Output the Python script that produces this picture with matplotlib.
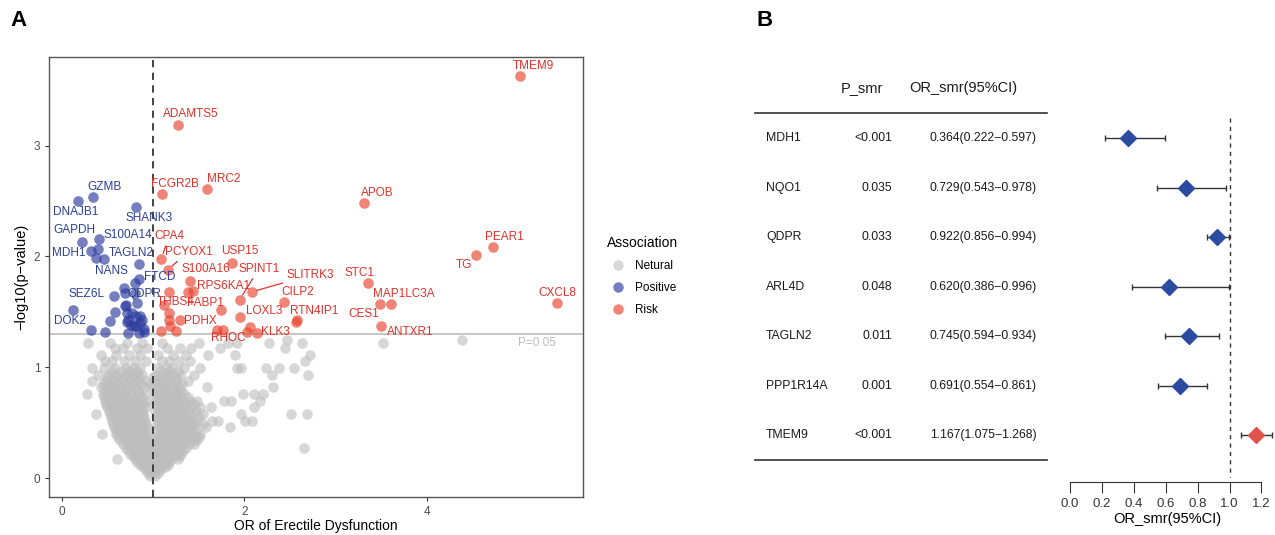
import numpy as np
import matplotlib.pyplot as plt
from matplotlib.lines import Line2D

plt.rcParams['font.family'] = ['Liberation Sans', 'DejaVu Sans']

# ---- panel A : volcano data ----
risk_genes = ['ADAMTS5', 'FCGR2B', 'MRC2', 'CPA4', 'PCYOX1', 'USP15', 'S100A16',
              'SPINT1', 'SLITRK3', 'RPS6KA1', 'THBS4', 'FABP1', 'CILP2', 'LOXL3',
              'RTN4IP1', 'PDHX', 'RHOC', 'KLK3', 'TMEM9', 'APOB', 'PEAR1', 'TG',
              'STC1', 'MAP1LC3A', 'CES1', 'ANTXR1', 'CXCL8']
risk_or = [1.27, 1.10, 1.59, 1.09, 1.16, 1.86, 1.40, 1.95, 2.08, 1.44, 1.17, 1.75,
           2.44, 1.95, 2.57, 1.30, 1.70, 2.14, 5.02, 3.31, 4.72, 4.54, 3.35, 3.61,
           3.49, 3.50, 5.42]
risk_logp = [3.19, 2.56, 2.61, 1.98, 1.88, 1.94, 1.78, 1.61, 1.68, 1.69, 1.68, 1.52,
             1.59, 1.45, 1.41, 1.43, 1.34, 1.31, 3.63, 2.48, 2.09, 2.01, 1.76, 1.57,
             1.57, 1.37, 1.58]
risk_other_or = [1.38, 1.17, 1.18, 1.09, 1.25, 1.77, 2.06, 2.03, 1.19, 2.58, 1.12]
risk_other_logp = [1.68, 1.49, 1.43, 1.33, 1.33, 1.34, 1.36, 1.32, 1.37, 1.43, 1.56]

pos_genes = ['GZMB', 'DNAJB1', 'SHANK3', 'GAPDH', 'S100A14', 'MDH1', 'TAGLN2',
             'NANS', 'FTCD', 'SEZ6L', 'QDPR', 'DOK2']
pos_or = [0.34, 0.18, 0.81, 0.22, 0.41, 0.32, 0.46, 0.85, 0.85, 0.57, 0.80, 0.12]
pos_logp = [2.54, 2.50, 2.45, 2.13, 2.16, 2.05, 1.98, 1.80, 1.93, 1.64, 1.76, 1.52]
pos_other_or = [0.40, 0.38, 0.80, 0.69, 0.68, 0.70, 0.58, 0.72, 0.81, 0.86, 0.90,
                0.81, 0.71, 0.32, 0.47, 0.53, 0.69, 0.73, 0.73, 0.79, 0.83, 0.86,
                0.77, 0.90, 0.85, 0.76, 0.88]
pos_other_logp = [2.07, 1.99, 1.67, 1.67, 1.72, 1.56, 1.50, 1.49, 1.46, 1.40, 1.35,
                  1.37, 1.41, 1.34, 1.32, 1.42, 1.55, 1.43, 1.31, 1.37, 1.58, 1.46,
                  1.49, 1.32, 1.31, 1.38, 1.43]

# neutral genes, listed by -log10(p) row
grey_rows = [
    (0.02, [0.97, 1.02]),
    (0.05, [0.94, 1.00, 1.05]),
    (0.07, [0.92, 0.97, 1.03, 1.08]),
    (0.10, [0.89, 0.94, 0.99, 1.04, 1.09, 1.13]),
    (0.12, [0.86, 0.91, 0.96, 1.01, 1.06, 1.11, 1.16]),
    (0.15, [0.83, 0.88, 0.93, 0.98, 1.03, 1.08, 1.13, 1.18]),
    (0.17, [0.61, 0.80, 0.85, 0.90, 0.95, 1.05, 1.10, 1.15, 1.20, 1.27]),
    (0.20, [0.78, 0.83, 0.88, 0.93, 0.98, 1.03, 1.08, 1.13, 1.18, 1.23, 1.28]),
    (0.22, [0.75, 0.80, 0.85, 0.90, 0.95, 1.00, 1.05, 1.10, 1.15, 1.20, 1.25, 1.31]),
    (0.25, [0.73, 0.79, 0.85, 0.91, 0.97, 1.03, 1.09, 1.15, 1.21, 1.27, 1.33]),
    (0.27, [0.70, 0.76, 0.82, 0.88, 0.94, 1.06, 1.12, 1.18, 1.24, 1.30, 1.36, 2.65]),
    (0.31, [0.67, 0.73, 0.79, 0.85, 0.91, 0.97, 1.03, 1.09, 1.15, 1.21, 1.27, 1.33,
            1.39, 1.45]),
    (0.34, [0.64, 0.70, 0.76, 0.82, 0.88, 0.94, 1.00, 1.06, 1.12, 1.18, 1.24, 1.30,
            1.36, 1.42, 1.48]),
    (0.37, [0.62, 0.68, 0.74, 0.80, 0.86, 0.92, 0.98, 1.04, 1.10, 1.16, 1.22, 1.28,
            1.34, 1.40, 1.46, 1.50]),
    (0.40, [0.44, 0.60, 0.66, 0.72, 0.78, 0.84, 0.90, 1.08, 1.14, 1.20, 1.26, 1.32,
            1.38, 1.44, 1.52]),
    (0.43, [0.59, 0.65, 0.71, 0.77, 0.83, 0.89, 0.95, 1.05, 1.11, 1.17, 1.23, 1.29,
            1.35, 1.41, 1.47]),
    (0.46, [0.57, 0.63, 0.69, 0.75, 0.81, 0.87, 0.93, 1.07, 1.13, 1.19, 1.25, 1.31,
            1.37, 1.43, 1.58, 1.84]),
    (0.49, [0.56, 0.62, 0.68, 0.74, 0.80, 0.86, 0.92, 1.04, 1.10, 1.16, 1.22, 1.28,
            1.34, 1.40, 1.46, 1.55]),
    (0.52, [0.55, 0.61, 0.67, 0.73, 0.79, 0.85, 0.91, 1.06, 1.12, 1.18, 1.24, 1.30,
            1.36, 1.42, 1.48, 1.65, 1.71, 2.01, 2.08]),
    (0.55, [0.54, 0.60, 0.66, 0.72, 0.78, 0.84, 0.90, 1.03, 1.09, 1.15, 1.21, 1.27,
            1.33, 1.39, 1.50]),
    (0.58, [0.38, 0.53, 0.59, 0.65, 0.71, 0.77, 0.83, 0.89, 1.05, 1.11, 1.17, 1.23,
            1.29, 1.35, 1.44, 1.55, 1.96, 2.51, 2.69]),
    (0.61, [0.52, 0.58, 0.64, 0.70, 0.76, 0.82, 0.88, 1.02, 1.08, 1.14, 1.20, 1.26,
            1.32, 1.38, 1.47]),
    (0.64, [0.50, 0.56, 0.62, 0.68, 0.74, 0.80, 0.86, 0.92, 1.04, 1.10, 1.16, 1.22,
            1.28, 1.34, 1.42, 1.52, 1.63, 2.11]),
    (0.67, [0.49, 0.55, 0.61, 0.67, 0.73, 0.79, 0.85, 0.90, 1.03, 1.09, 1.15, 1.21,
            1.27, 1.35, 1.45]),
    (0.70, [0.47, 0.53, 0.59, 0.65, 0.71, 0.77, 0.83, 0.92, 1.02, 1.08, 1.14, 1.20,
            1.26, 1.32, 1.40, 1.48, 1.78, 1.85, 2.17]),
    (0.73, [0.46, 0.54, 0.60, 0.66, 0.72, 0.80, 0.88, 1.04, 1.10, 1.16, 1.23, 1.30,
            1.38]),
    (0.76, [0.28, 0.45, 0.51, 0.57, 0.63, 0.69, 0.75, 0.85, 0.92, 1.02, 1.08, 1.14,
            1.20, 1.26, 1.34, 1.99, 2.11, 2.21]),
    (0.79, [0.47, 0.54, 0.61, 0.68, 0.76, 0.84, 1.04, 1.11, 1.18, 1.25, 1.31]),
    (0.82, [0.43, 0.50, 0.57, 0.64, 0.72, 0.80, 0.90, 1.00, 1.07, 1.14, 1.21, 1.28,
            1.59, 2.31]),
    (0.85, [0.45, 0.53, 0.61, 0.70, 0.78, 0.87, 0.97, 1.05, 1.13, 1.22, 1.32]),
    (0.88, [0.33, 0.48, 0.56, 0.66, 0.75, 0.82, 0.92, 1.02, 1.10, 1.18, 1.26, 1.38]),
    (0.91, [0.50, 0.58, 0.67, 0.77, 0.85, 1.00, 1.08, 1.16, 1.25]),
    (0.93, [0.40, 0.52, 0.62, 0.72, 0.80, 0.88, 1.03, 1.12, 1.20, 1.30, 1.45, 2.30,
            2.70]),
    (0.97, [0.55, 0.65, 0.74, 0.83, 1.09, 1.18, 1.27]),
    (0.99, [0.33, 0.46, 0.58, 0.70, 0.78, 0.86, 1.04, 1.14, 1.21, 1.34, 1.52, 1.92,
            1.96, 2.24, 2.38, 2.54]),
    (1.06, [0.47, 0.55, 0.68, 0.80, 0.92, 1.10, 1.18, 1.28, 1.40, 2.67]),
    (1.11, [0.43, 0.60, 0.74, 0.86, 1.06, 1.22, 1.36, 1.60, 1.90, 2.72]),
    (1.17, [0.58, 0.67, 0.82, 0.93, 1.15, 1.30, 1.42, 1.73, 2.45]),
    (1.22, [0.29, 0.53, 0.72, 0.88, 1.10, 1.50, 1.82, 1.92, 2.27, 2.63, 3.52]),
    (1.25, [2.47, 4.39]),
]

# ---- panel B : SMR table / forest data ----
forest_genes = ['MDH1', 'NQO1', 'QDPR', 'ARL4D', 'TAGLN2', 'PPP1R14A', 'TMEM9']
p_smr = ['<0.001', '0.035', '0.033', '0.048', '0.011', '0.001', '<0.001']
or_smr = [0.364, 0.729, 0.922, 0.620, 0.745, 0.691, 1.167]
ci_low = [0.222, 0.543, 0.856, 0.386, 0.594, 0.554, 1.075]
ci_high = [0.597, 0.978, 0.994, 0.996, 0.934, 0.861, 1.268]

p_cut = -np.log10(0.05)

# label offsets in pixels (dx, dy)
label_offset = {
    'GZMB': (12, 10), 'DNAJB1': (-2, -11), 'SHANK3': (13, -11), 'GAPDH': (-7, 12),
    'S100A14': (29, 4), 'MDH1': (-22, -2), 'TAGLN2': (28, 6), 'NANS': (-28, 8),
    'FTCD': (20, -13), 'SEZ6L': (-27, 2), 'QDPR': (10, -11), 'DOK2': (-3, -11),
    'ADAMTS5': (13, 11), 'FCGR2B': (13, 10), 'MRC2': (17, 10), 'CPA4': (8, 23),
    'PCYOX1': (21, 18), 'USP15': (8, 12), 'S100A16': (16, 12), 'SPINT1': (19, 31),
    'SLITRK3': (59, 17), 'RPS6KA1': (30, 5), 'THBS4': (7, -10), 'FABP1': (-16, 7),
    'CILP2': (13, 10), 'LOXL3': (24, 6), 'RTN4IP1': (18, 11), 'PDHX': (20, -1),
    'RHOC': (11, -8), 'KLK3': (18, 1), 'TMEM9': (13, 10), 'APOB': (13, 10),
    'PEAR1': (12, 10), 'TG': (-12, -10), 'STC1': (-8, 10), 'MAP1LC3A': (13, 10),
    'CES1': (-17, -10), 'ANTXR1': (29, -6), 'CXCL8': (1, 10),
}
segment_genes = {'CPA4', 'PCYOX1', 'SPINT1', 'SLITRK3'}

grey_c = '#BDBDBD'
blue_c = '#2B3A9E'
red_c = '#E8442E'
blue_txt = '#2B3F99'
red_txt = '#E0322A'

fig = plt.figure(figsize=(12.75, 5.35), dpi=100)
W, H = 1275.0, 535.0


def px_axes(l, t, r, b):
    return fig.add_axes([l / W, 1 - b / H, (r - l) / W, (b - t) / H])


# ================= panel A =================
ax = px_axes(49.3, 57, 583, 497)
gx = [x for y, xs in grey_rows for x in xs]
gy = [y for y, xs in grey_rows for x in xs]
ax.scatter(gx, gy, s=58, color=grey_c, alpha=0.6, linewidths=0, zorder=2)
ax.scatter(pos_other_or, pos_other_logp, s=58, color=blue_c, alpha=0.65, linewidths=0, zorder=3)
ax.scatter(pos_or, pos_logp, s=58, color=blue_c, alpha=0.65, linewidths=0, zorder=3)
ax.scatter(risk_other_or, risk_other_logp, s=58, color=red_c, alpha=0.65, linewidths=0, zorder=3)
ax.scatter(risk_or, risk_logp, s=58, color=red_c, alpha=0.65, linewidths=0, zorder=3)

ax.axhline(p_cut, color='#BEBEBE', lw=1.2, zorder=1)
ax.axvline(1, color='#333333', lw=1.3, ls=(0, (4, 3)), zorder=4)
ax.text(5.21, p_cut - 0.08, 'P=0.05', color='#BBBBBB', fontsize=8.5,
        ha='center', va='center')

for genes, xs, ys, col in [(pos_genes, pos_or, pos_logp, blue_txt),
                           (risk_genes, risk_or, risk_logp, red_txt)]:
    for g, x, y in zip(genes, xs, ys):
        dx, dy = label_offset[g]
        arrow = None
        if g in segment_genes:
            arrow = dict(arrowstyle='-', color=red_txt, lw=0.9, shrinkA=1, shrinkB=4)
        ax.annotate(g, (x, y), xytext=(dx, dy), textcoords='offset pixels',
                    ha='center', va='center', fontsize=8.5, color=col,
                    arrowprops=arrow, zorder=5)

ax.set_xlim(-0.136, 5.71)
ax.set_ylim(-0.17, 3.80)
ax.set_xticks([0, 2, 4])
ax.set_yticks([0, 1, 2, 3])
for s in ax.spines.values():
    s.set_color('#555555')
    s.set_linewidth(1)
ax.tick_params(length=3, color='#333333', labelcolor='#4D4D4D', labelsize=8.5)
ax.set_xlabel('OR of Erectile Dysfunction', fontsize=10, labelpad=1)
ax.set_ylabel('\u2212log10(p\u2212value)', fontsize=10.5, labelpad=4)

handles = [Line2D([], [], ls='', marker='o', ms=7.5, color=c, alpha=a, mec='none')
           for c, a in [(grey_c, 0.6), (blue_c, 0.65), (red_c, 0.65)]]
fig.legend(handles, ['Netural', 'Positive', 'Risk'], title='Association',
           loc='upper left', bbox_to_anchor=(596 / W, 1 - 225 / H), frameon=False,
           fontsize=8.5, title_fontsize=10, alignment='left', handletextpad=0.4,
           labelspacing=0.85)

fig.text(10 / W, 1 - 20 / H, 'A', fontsize=16, fontweight='bold', va='center')
fig.text(756 / W, 1 - 20 / H, 'B', fontsize=16, fontweight='bold', va='center')

# ================= panel B : table =================
row_px0, row_step = 138.3, 49.45
axt = px_axes(740, 60, 1060, 481.7)
axt.set_xlim(740, 1060)
axt.set_ylim((481.7 - row_px0) / row_step, (60 - row_px0) / row_step)
axt.axis('off')
hdr_y = (88 - row_px0) / row_step
axt.text(862, hdr_y, 'P_smr', ha='center', va='center', fontsize=10.5, color='#1a1a1a')
axt.text(963, hdr_y, 'OR_smr(95%CI)', ha='center', va='center', fontsize=10.5, color='#1a1a1a')
axt.plot([755, 1047], [(113.3 - row_px0) / row_step] * 2, color='#333333', lw=1.2)
axt.plot([755, 1047], [(460 - row_px0) / row_step] * 2, color='#333333', lw=1.2)
for i, g in enumerate(forest_genes):
    axt.text(766, i, g, ha='left', va='center', fontsize=8.8, color='#1a1a1a')
    axt.text(892, i, p_smr[i], ha='right', va='center', fontsize=8.8, color='#1a1a1a')
    txt = f'{or_smr[i]:.3f}({ci_low[i]:.3f}\u2212{ci_high[i]:.3f})'
    axt.text(1037, i, txt, ha='right', va='center', fontsize=8.8, color='#1a1a1a')

# ================= panel B : forest =================
axf = px_axes(1060.4, 115, 1274.2, 481.7)
axf.set_xlim(-0.06, 1.28)
axf.set_ylim((481.7 - row_px0) / row_step, (115 - row_px0) / row_step)
axf.vlines(1, (118 - row_px0) / row_step, (476.7 - row_px0) / row_step,
           color='#333333', lw=1, linestyles=(0, (3, 3)))
rows = np.arange(len(forest_genes))
for i in rows:
    col = '#2B4BA0' if or_smr[i] < 1 else '#E0534A'
    axf.errorbar(or_smr[i], i, xerr=[[or_smr[i] - ci_low[i]], [ci_high[i] - or_smr[i]]],
                 fmt='none', ecolor='#333333', elinewidth=1, capsize=2.5, capthick=1)
    axf.plot(or_smr[i], i, marker='D', ms=8.5, color=col, mec=col, zorder=3)
for side in ['left', 'right', 'top']:
    axf.spines[side].set_visible(False)
axf.spines['bottom'].set_bounds(0, 1.2)
axf.spines['bottom'].set_color('#333333')
axf.set_yticks([])
axf.set_xticks(np.arange(0, 1.21, 0.2))
axf.set_xticklabels([f'{v:.1f}' for v in np.arange(0, 1.21, 0.2)])
axf.tick_params(axis='x', length=8, color='#333333', labelcolor='#333333', labelsize=9.5)
axf.set_xlabel('OR_smr(95%CI)', fontsize=10.5, labelpad=2)

fig.savefig('out.png', dpi=100)
